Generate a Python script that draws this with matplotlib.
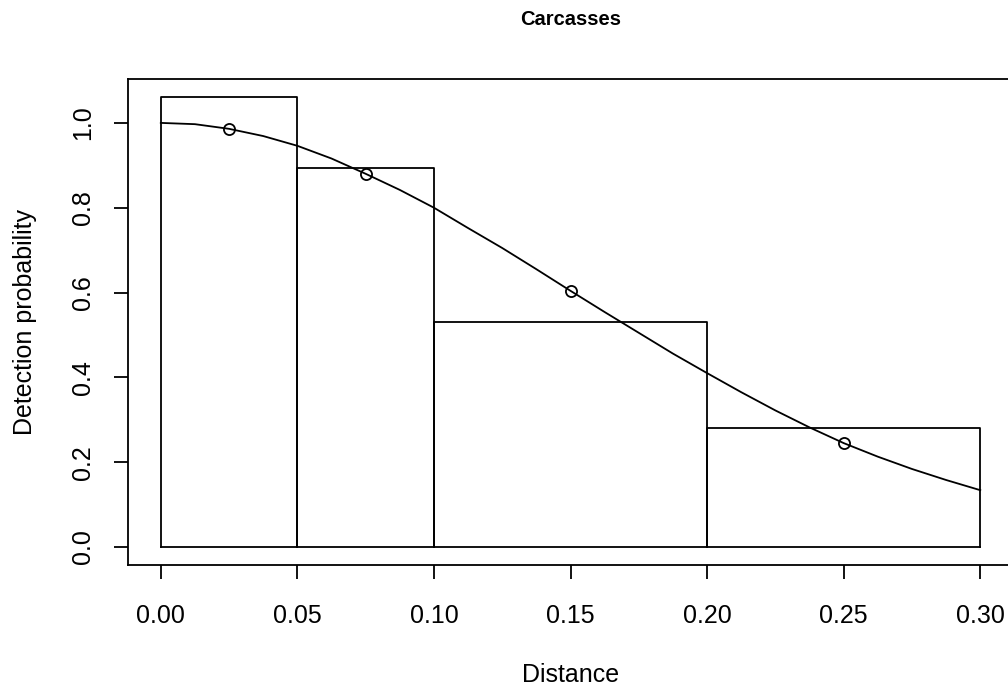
import matplotlib.pyplot as plt

plt.rcParams['font.family'] = ['Liberation Sans', 'DejaVu Sans']

# histogram bins (distance) and scaled heights
bin_edges = [0.00, 0.05, 0.10, 0.20, 0.30]
bin_heights = [1.061, 0.894, 0.531, 0.281]

# points at bin midpoints
point_x = [0.025, 0.075, 0.15, 0.25]
point_y = [0.986, 0.880, 0.604, 0.245]

# fitted detection curve
curve_x = [0.0, 0.0125, 0.025, 0.0375, 0.05, 0.0625, 0.075, 0.0875, 0.10, 0.1125,
           0.125, 0.1375, 0.15, 0.1625, 0.175, 0.1875, 0.20, 0.2125, 0.225, 0.2375,
           0.25, 0.2625, 0.275, 0.2875, 0.30]
curve_y = [1.000, 0.997, 0.986, 0.969, 0.946, 0.916, 0.880, 0.842, 0.800, 0.752,
           0.705, 0.655, 0.604, 0.554, 0.505, 0.456, 0.410, 0.365, 0.322, 0.282,
           0.245, 0.213, 0.184, 0.158, 0.134]

xticks = [0.00, 0.05, 0.10, 0.15, 0.20, 0.25, 0.30]
yticks = [0.0, 0.2, 0.4, 0.6, 0.8, 1.0]

fig = plt.figure(figsize=(10.08, 6.87), dpi=100)
ax = fig.add_axes([0.127, 0.1776, 0.878, 0.7074])

lw = 1.3
for i in range(len(bin_heights)):
    x0, x1 = bin_edges[i], bin_edges[i + 1]
    h = bin_heights[i]
    ax.plot([x0, x0, x1, x1], [0, h, h, 0], color='black', lw=lw)
ax.plot([bin_edges[0], bin_edges[-1]], [0, 0], color='black', lw=lw)

ax.plot(curve_x, curve_y, color='black', lw=1.3)
ax.plot(point_x, point_y, 'o', mfc='none', mec='black', ms=8, mew=1.3)

ax.set_xlim(-0.012, 0.312)
ax.set_ylim(-0.0424, 1.1035)
ax.set_xticks(xticks)
ax.set_xticklabels(['%.2f' % v for v in xticks])
ax.set_yticks(yticks)
ax.set_yticklabels(['%.1f' % v for v in yticks], rotation=90, va='center')
ax.tick_params(direction='out', length=10, width=1.3, labelsize=18)
ax.tick_params(axis='x', pad=18)
ax.tick_params(axis='y', pad=14)
for s in ax.spines.values():
    s.set_linewidth(1.3)

ax.set_xlabel('Distance', fontsize=18, labelpad=25)
ax.set_ylabel('Detection probability', fontsize=18, labelpad=24)
fig.text(0.566, 0.9636, 'Carcasses', ha='center', va='baseline',
         fontsize=14.5, fontweight='bold')

fig.savefig('out.png', dpi=100)
